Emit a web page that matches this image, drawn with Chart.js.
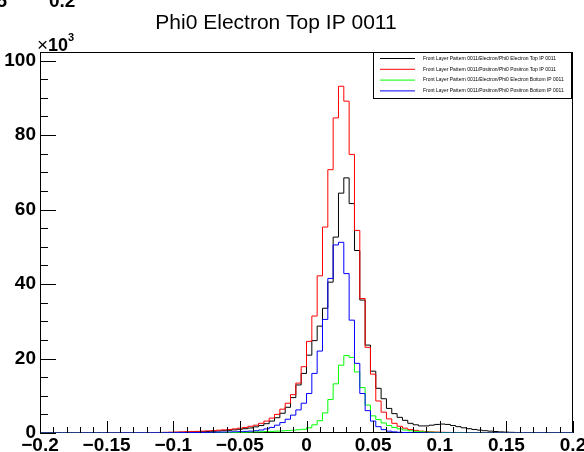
<!DOCTYPE html>
<html>
<head>
<meta charset="utf-8">
<script src="https://cdn.jsdelivr.net/npm/chart.js@4.4.1/dist/chart.umd.min.js"></script>
<style>
html,body{margin:0;padding:0;background:#fff;}
#wrap{width:584px;height:452px;position:relative;}
canvas{display:block;}
</style>
</head>
<body>
<div id="wrap"><canvas id="c" width="584" height="452"></canvas></div>
<script>
// Histogram binning: 100 bins from -0.2 to 0.2
const binLow = -0.2;
const binWidth = 0.004;

const chartTitle = 'Phi0 Electron Top IP 0011';
const seriesLabels = [
  'Front Layer Pattern 0011/Electron/Phi0 Electron Top IP 0011',
  'Front Layer Pattern 0011/Positron/Phi0 Positron Top IP 0011',
  'Front Layer Pattern 0011/Electron/Phi0 Electron Bottom IP 0011',
  'Front Layer Pattern 0011/Positron/Phi0 Positron Bottom IP 0011'
];

// bin contents, in units of 10^3
const electronTop = [
  0,0,0,0,0,0.01,0.01,0.01,0.02,0.02,
  0.02,0.03,0.03,0.04,0.04,0.05,0.06,0.07,0.08,0.09,
  0.1,0.11,0.12,0.14,0.16,0.18,0.2,0.23,0.27,0.31,
  0.35,0.4,0.46,0.53,0.62,0.72,0.84,1.0,1.15,1.35,
  1.65,2.0,2.5,3.2,4.1,5.3,6.9,9.5,12.9,16.0,
  20.9,24.8,28.7,33.5,40.5,52.6,64.4,68.5,61.6,49.0,
  35.7,23.6,16.6,12.0,9.2,6.6,5.2,4.2,3.4,2.6,
  2.2,1.9,1.9,2.1,2.3,2.4,2.3,2.0,1.7,1.4,
  1.15,0.95,0.78,0.62,0.5,0.4,0.3,0.24,0.18,0.14,
  0.1,0.08,0.06,0.05,0.04,0.03,0.02,0.02,0.01,0.01
];
const positronTop = [
  0,0,0,0,0.01,0.01,0.01,0.02,0.02,0.02,
  0.03,0.03,0.04,0.04,0.05,0.06,0.07,0.08,0.09,0.1,
  0.12,0.13,0.15,0.17,0.2,0.25,0.29,0.33,0.38,0.44,
  0.5,0.57,0.65,0.75,0.85,0.95,1.1,1.3,1.5,1.8,
  2.1,2.6,3.2,4.0,5.0,6.4,8.0,10.3,13.4,17.8,
  24.6,31.4,42.2,55.3,70.7,84.6,93.1,89.1,74.8,54.4,
  36.1,23.0,15.8,8.6,5.6,3.8,2.6,1.8,1.3,0.9,
  0.7,0.5,0.4,0.3,0.25,0.2,0.16,0.13,0.1,0.08,
  0.07,0.06,0.05,0.04,0.03,0.03,0.02,0.02,0.01,0.01,
  0.01,0.01,0,0,0,0,0,0,0,0
];
const electronBottom = [
  0,0,0,0,0,0,0,0,0,0,
  0,0,0,0,0,0,0,0.01,0.01,0.01,
  0.01,0.01,0.02,0.02,0.02,0.03,0.03,0.04,0.04,0.05,
  0.06,0.07,0.08,0.09,0.1,0.12,0.14,0.17,0.21,0.25,
  0.3,0.34,0.38,0.43,0.5,0.57,0.65,0.75,0.87,1.0,
  1.4,2.2,3.3,5.4,9.0,13.2,18.2,20.8,20.3,16.4,
  12.2,7.5,4.6,3.6,2.7,2.0,1.5,1.1,0.8,0.6,
  0.45,0.35,0.27,0.21,0.17,0.13,0.1,0.08,0.06,0.05,
  0.04,0.03,0.03,0.02,0.02,0.01,0.01,0.01,0,0,
  0,0,0,0,0,0,0,0,0,0
];
const positronBottom = [
  0,0,0,0,0,0,0,0,0.01,0.01,
  0.01,0.01,0.02,0.02,0.02,0.03,0.03,0.03,0.04,0.04,
  0.05,0.055,0.06,0.07,0.08,0.09,0.1,0.11,0.12,0.13,
  0.15,0.17,0.19,0.22,0.25,0.28,0.32,0.37,0.43,0.5,
  0.6,0.8,1.1,1.5,2.1,2.8,3.7,4.8,6.2,8.0,
  10.6,16.0,22.0,30.5,41.5,50.5,51.2,42.8,30.3,18.7,
  10.6,6.0,3.2,1.7,0.9,0.5,0.3,0.2,0.13,0.08,
  0.05,0.04,0.03,0.02,0.02,0.01,0.01,0.01,0,0,
  0,0,0,0,0,0,0,0,0,0,
  0,0,0,0,0,0,0,0,0,0
];

const seriesColors = ['#000000', '#ff0000', '#00ff00', '#0000ff'];

const xTickValues = [-0.2,-0.15,-0.1,-0.05,0,0.05,0.1,0.15,0.2];
const xTickLabels = ['\u22120.2','\u22120.15','\u22120.1','\u22120.05','0','0.05','0.1','0.15','0.2'];
const yTickValues = [0,20,40,60,80,100];
const yTickLabels = ['0','20','40','60','80','100'];
const yMax = 102.3;

const FONT = '"Liberation Sans", Arial, Helvetica, sans-serif';

function histPoints(vals) {
  // point at each bin's low edge carrying the bin content, plus the last upper edge
  const pts = vals.map((v, i) => ({x: binLow + i * binWidth, y: v}));
  pts.push({x: binLow + vals.length * binWidth, y: vals[vals.length - 1]});
  return pts;
}

const allSeries = [electronTop, positronTop, electronBottom, positronBottom];

const rootFrame = {
  id: 'rootFrame',
  beforeDatasetsDraw(chart) {
    const {ctx, chartArea: a} = chart;
    ctx.save();
    ctx.strokeStyle = '#000';
    ctx.lineWidth = 1;
    ctx.strokeRect(a.left + 0.5, a.top + 0.5, a.right - a.left - 1, a.bottom - a.top - 1);
    ctx.restore();
  },
  afterDatasetsDraw(chart) {
    const {ctx, chartArea: a, scales: {x, y}} = chart;
    ctx.save();
    ctx.strokeStyle = '#000';
    ctx.lineWidth = 1;
    ctx.beginPath();
    // x ticks: major every 0.05, minor every 0.01
    for (let i = 0; i <= 40; i++) {
      const v = -0.2 + i * 0.01;
      const px = Math.round(x.getPixelForValue(v)) + 0.5;
      const len = (i % 5 === 0) ? 12 : 6;
      ctx.moveTo(px, a.bottom);
      ctx.lineTo(px, a.bottom - len);
    }
    // y ticks: major every 20, minor every 5
    for (let v = 0; v <= 100; v += 5) {
      const py = Math.round(y.getPixelForValue(v)) + 0.5;
      const len = (v % 20 === 0) ? 16 : 8;
      ctx.moveTo(a.left, py);
      ctx.lineTo(a.left + len, py);
    }
    ctx.stroke();

    // Title
    ctx.fillStyle = '#000';
    ctx.font = '21px ' + FONT;
    ctx.textAlign = 'center';
    ctx.textBaseline = 'alphabetic';
    ctx.fillText(chartTitle, 276, 28.5);

    // x10^3 exponent
    ctx.textAlign = 'left';
    ctx.font = '19px ' + FONT;
    ctx.fillText('\u00d7', 37, 51);
    ctx.font = 'bold 18px ' + FONT;
    ctx.fillText('10', 48, 51);
    ctx.font = 'bold 11px ' + FONT;
    ctx.fillText('3', 68, 41);

    // remnants of labels from an upper pad (cut off at the top)
    ctx.font = 'bold 19px ' + FONT;
    ctx.fillText('5', -3.5, 7);
    ctx.fillText('0.2', 49, 7);

    // Legend box
    const lx0 = 373.5, ly0 = 52.5, lw = 198, lh = 46;
    ctx.fillStyle = '#fff';
    ctx.fillRect(lx0, ly0, lw, lh);
    ctx.strokeStyle = '#000';
    ctx.strokeRect(lx0, ly0, lw, lh);
    // legend text drawn at 10px and scaled so the first entry spans ~133 px
    ctx.font = '10px ' + FONT;
    const w10 = ctx.measureText(chart.data.datasets[0].label).width;
    const k = 133 / w10;
    ctx.textBaseline = 'middle';
    chart.data.datasets.forEach((ds, i) => {
      const ly = 58.5 + i * 10.8;
      ctx.strokeStyle = ds.borderColor;
      ctx.beginPath();
      ctx.moveTo(380, ly);
      ctx.lineTo(415, ly);
      ctx.stroke();
      ctx.save();
      ctx.translate(423, ly);
      ctx.scale(k, k);
      ctx.fillStyle = '#000';
      ctx.fillText(ds.label, 0, 0);
      ctx.restore();
    });
    ctx.restore();
  }
};

new Chart(document.getElementById('c'), {
  type: 'line',
  data: {
    datasets: allSeries.map((vals, i) => ({
      label: seriesLabels[i],
      data: histPoints(vals),
      borderColor: seriesColors[i],
      backgroundColor: seriesColors[i],
      borderWidth: 1,
      pointRadius: 0,
      fill: false,
      stepped: 'before',
      order: 3 - i
    }))
  },
  options: {
    responsive: false,
    animation: false,
    devicePixelRatio: 1,
    layout: {padding: {left: 0, right: 11, top: 52, bottom: 0}},
    plugins: {
      legend: {display: false},
      title: {display: false},
      tooltip: {enabled: false}
    },
    scales: {
      x: {
        type: 'linear',
        min: -0.2,
        max: 0.2,
        afterBuildTicks: s => { s.ticks = xTickValues.map(v => ({value: v})); },
        afterFit: s => { s.height = 19; s.paddingLeft = 0; s.paddingRight = 0; },
        grid: {display: false, drawTicks: false},
        border: {display: false},
        ticks: {
          autoSkip: false, maxRotation: 0, minRotation: 0, padding: 1,
          color: '#000',
          font: {family: FONT, size: 19, weight: 'bold'},
          callback: (v, i) => xTickLabels[i]
        }
      },
      y: {
        type: 'linear',
        min: 0,
        max: yMax,
        afterBuildTicks: s => { s.ticks = yTickValues.map(v => ({value: v})); },
        afterFit: s => { s.width = 40; s.paddingTop = 0; s.paddingBottom = 0; },
        grid: {display: false, drawTicks: false},
        border: {display: false},
        ticks: {
          autoSkip: false, padding: 4,
          color: '#000',
          font: {family: FONT, size: 19, weight: 'bold'},
          callback: (v, i) => yTickLabels[i]
        }
      }
    }
  },
  plugins: [rootFrame]
});
</script>
</body>
</html>
